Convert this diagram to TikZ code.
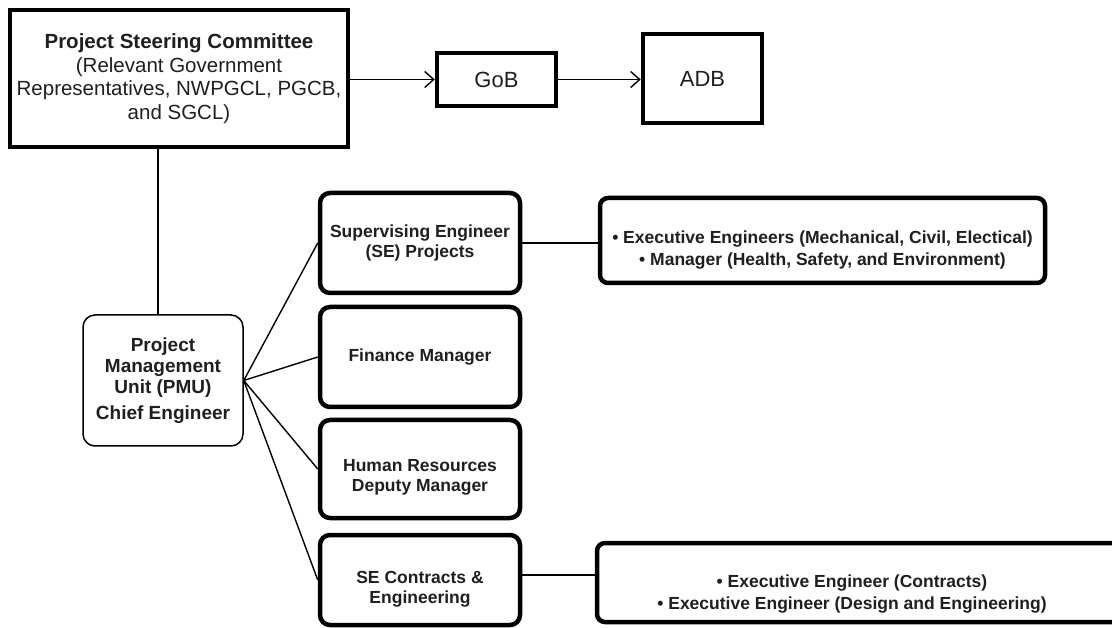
\documentclass[tikz,border=0pt]{standalone}
\usepackage{fontspec}
\setmainfont{Liberation Sans}
\usetikzlibrary{arrows.meta}
\begin{document}
\begin{tikzpicture}[x=1pt,y=-1pt,
  sqbox/.style={draw=black, line width=4.5pt, fill=white, inner sep=0pt, align=center, text=black!88},
  rbox/.style={draw=black, line width=4.5pt, rounded corners=10pt, fill=white, inner sep=0pt, align=center, text=black!88,
    font=\bfseries\fontsize{17.5}{20}\selectfont, minimum width=200pt},
  pmubox/.style={draw=black, line width=1.5pt, rounded corners=12pt, fill=white, inner sep=0pt, align=center, text=black!88,
    font=\bfseries\fontsize{19}{21}\selectfont},
  listbox/.style={draw=black, line width=4.5pt, rounded corners=8pt, fill=white, inner sep=0pt, align=center, text=black!88,
    font=\bfseries\fontsize{17.5}{22.5}\selectfont},
  conn/.style={draw=black, line width=1.4pt},
  arr/.style={conn, -{Straight Barb[length=9pt,width=16pt,line width=1.4pt]}}
]
\useasboundingbox (0,0) rectangle (1112,628);
\clip (0,0) rectangle (1112,628);
\fill[white] (0,0) rectangle (1112,628);

\node[sqbox, minimum width=338pt, minimum height=137pt, font=\fontsize{20.5}{23.5}\selectfont] (psc) at (179,78.5)
  {\textbf{Project Steering Committee}\\(Relevant Government\\Representatives, NWPGCL, PGCB,\\and SGCL)};
\node[sqbox, minimum width=119pt, minimum height=53pt, font=\fontsize{22}{24}\selectfont] (gob) at (496.5,79.5) {GoB};
\node[sqbox, minimum width=119pt, minimum height=89pt, font=\fontsize{22}{24}\selectfont] (adb) at (702.5,78.5) {ADB};

\node[pmubox, minimum width=160pt, minimum height=131pt] (pmu) at (163,380.5)
  {Project\\Management\\Unit (PMU)\\[5pt]Chief Engineer};

\node[rbox, minimum height=100pt] (sep) at (420,243) {Supervising Engineer\\(SE) Projects};
\node[rbox, minimum height=100pt] (fin) at (420,357) {Finance Manager};
\node[rbox, minimum height=98pt] (hr) at (420,469) {\rule{0pt}{28pt}Human Resources\\Deputy Manager};
\node[rbox, minimum height=90pt] (sec) at (420,580) {\rule{0pt}{30pt}SE Contracts \&\\Engineering};

\node[listbox, minimum width=445pt, minimum height=85pt] (r1) at (822.5,240.5)
  {\rule{0pt}{32pt}• Executive Engineers (Mechanical, Civil, Electical)\\• Manager (Health, Safety, and Environment)};
\node[listbox, minimum width=530pt, minimum height=79pt] (r2) at (862,582.5)
  {\rule{0pt}{36pt}\hspace*{-20pt}• Executive Engineer (Contracts)\\\hspace*{-20pt}• Executive Engineer (Design and Engineering)};

% connectors
\draw[conn, line width=2.5pt] ([xshift=-5pt]pmu.north) -- ([xshift=-5pt]pmu.north |- psc.south);
\draw[arr] (psc.east |- gob.west) -- (gob.west);
\draw[arr] (gob.east) -- (gob.east -| adb.west);
\draw[conn] (pmu.east) -- (sep.west);
\draw[conn] (pmu.east) -- (fin.west);
\draw[conn] (pmu.east) -- (hr.west);
\draw[conn] (pmu.east) -- (sec.west);
\draw[conn] (sep.east) -- (sep.east -| r1.west);
\draw[conn] ([yshift=5pt]sec.east) -- ([yshift=5pt]sec.east -| r2.west);
\end{tikzpicture}
\end{document}
